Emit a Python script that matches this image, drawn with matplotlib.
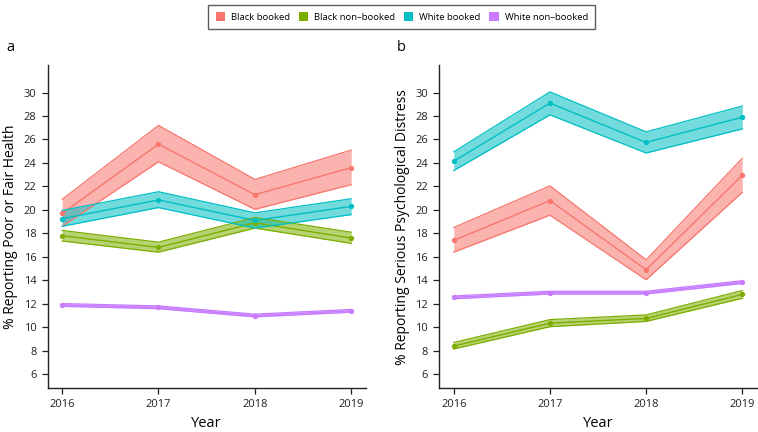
import matplotlib
matplotlib.use("Agg")
import matplotlib.pyplot as plt
from matplotlib.patches import Patch

plt.rcParams['font.family'] = ['Open Sans', 'DejaVu Sans']

# ----- data -------------------------------------------------------------------
years = [2016, 2017, 2018, 2019]
groups = ["Black booked", "Black non\u2013booked", "White booked", "White non\u2013booked"]
colors = ["#F8766D", "#7CAE00", "#00BFC4", "#C77CFF"]

# panel a: poor or fair health (estimate, lower, upper)
health_black_booked = [19.7, 25.6, 21.3, 23.6]
health_black_booked_lo = [18.6, 24.1, 20.05, 22.15]
health_black_booked_hi = [20.9, 27.2, 22.6, 25.1]
health_black_nonbooked = [17.8, 16.8, 18.9, 17.6]
health_black_nonbooked_lo = [17.35, 16.4, 18.45, 17.15]
health_black_nonbooked_hi = [18.25, 17.25, 19.35, 18.1]
health_white_booked = [19.25, 20.85, 19.1, 20.3]
health_white_booked_lo = [18.6, 20.2, 18.45, 19.6]
health_white_booked_hi = [19.95, 21.55, 19.75, 20.95]
health_white_nonbooked = [11.9, 11.7, 11.0, 11.4]
health_white_nonbooked_lo = [11.78, 11.58, 10.88, 11.28]
health_white_nonbooked_hi = [12.02, 11.82, 11.12, 11.52]

# panel b: serious psychological distress
distress_black_booked = [17.4, 20.8, 14.9, 22.95]
distress_black_booked_lo = [16.4, 19.55, 14.05, 21.5]
distress_black_booked_hi = [18.5, 22.05, 15.75, 24.4]
distress_black_nonbooked = [8.4, 10.35, 10.75, 12.8]
distress_black_nonbooked_lo = [8.15, 10.05, 10.5, 12.47]
distress_black_nonbooked_hi = [8.7, 10.65, 11.05, 13.13]
distress_white_booked = [24.15, 29.1, 25.75, 27.9]
distress_white_booked_lo = [23.35, 28.1, 24.85, 26.9]
distress_white_booked_hi = [24.95, 30.05, 26.65, 28.85]
distress_white_nonbooked = [12.55, 12.95, 12.95, 13.85]
distress_white_nonbooked_lo = [12.43, 12.83, 12.83, 13.73]
distress_white_nonbooked_hi = [12.67, 13.07, 13.07, 13.97]

y_ticks = [6, 8, 10, 12, 14, 16, 18, 20, 22, 24, 26, 28, 30]

health = [
    (health_black_booked, health_black_booked_lo, health_black_booked_hi),
    (health_black_nonbooked, health_black_nonbooked_lo, health_black_nonbooked_hi),
    (health_white_booked, health_white_booked_lo, health_white_booked_hi),
    (health_white_nonbooked, health_white_nonbooked_lo, health_white_nonbooked_hi),
]
distress = [
    (distress_black_booked, distress_black_booked_lo, distress_black_booked_hi),
    (distress_black_nonbooked, distress_black_nonbooked_lo, distress_black_nonbooked_hi),
    (distress_white_booked, distress_white_booked_lo, distress_white_booked_hi),
    (distress_white_nonbooked, distress_white_nonbooked_lo, distress_white_nonbooked_hi),
]


def draw_panel(ax, series, ylabel):
    for (est, lo, hi), col in zip(series, colors):
        ax.fill_between(years, lo, hi, color=col, alpha=0.55, linewidth=0)
        ax.plot(years, lo, color=col, lw=0.9)
        ax.plot(years, hi, color=col, lw=0.9)
        ax.plot(years, est, color=col, lw=1.0, marker='o', markersize=2.8)
    ax.set_xlim(2015.85, 2019.15)
    ax.set_ylim(4.8, 32.35)
    ax.set_xticks(years)
    ax.set_yticks(y_ticks)
    for s in ['top', 'right']:
        ax.spines[s].set_visible(False)
    for s in ['left', 'bottom']:
        ax.spines[s].set_color('#222222')
        ax.spines[s].set_linewidth(1.0)
    ax.tick_params(axis='both', length=4, width=0.9, color='#222222',
                   labelsize=8, labelcolor='#222222', pad=4)
    ax.set_xlabel("Year", fontsize=10.5, labelpad=4)
    ax.set_ylabel(ylabel, fontsize=10, labelpad=4)


fig = plt.figure(figsize=(7.58, 4.32), dpi=100)
ax1 = fig.add_axes([0.0629, 0.1012, 0.4195, 0.7484])
ax2 = fig.add_axes([0.5796, 0.1012, 0.4187, 0.7484])

draw_panel(ax1, health, "% Reporting Poor or Fair Health")
draw_panel(ax2, distress, "% Reporting Serious Psychological Distress")

fig.text(0.009, 0.89, "a", fontsize=10.5, ha='left', va='center')
fig.text(0.524, 0.89, "b", fontsize=10.5, ha='left', va='center')

handles = [Patch(facecolor=c, edgecolor='none') for c in colors]
leg = fig.legend(handles, groups, loc='upper center', bbox_to_anchor=(0.53, 1.0),
                 ncol=4, fontsize=6.8, frameon=True, fancybox=False,
                 handlelength=1.0, handleheight=1.1, handletextpad=0.6,
                 columnspacing=0.95, borderpad=0.75)
leg.get_frame().set_edgecolor('#333333')
leg.get_frame().set_linewidth(1.0)

fig.savefig("out.png", dpi=100)
